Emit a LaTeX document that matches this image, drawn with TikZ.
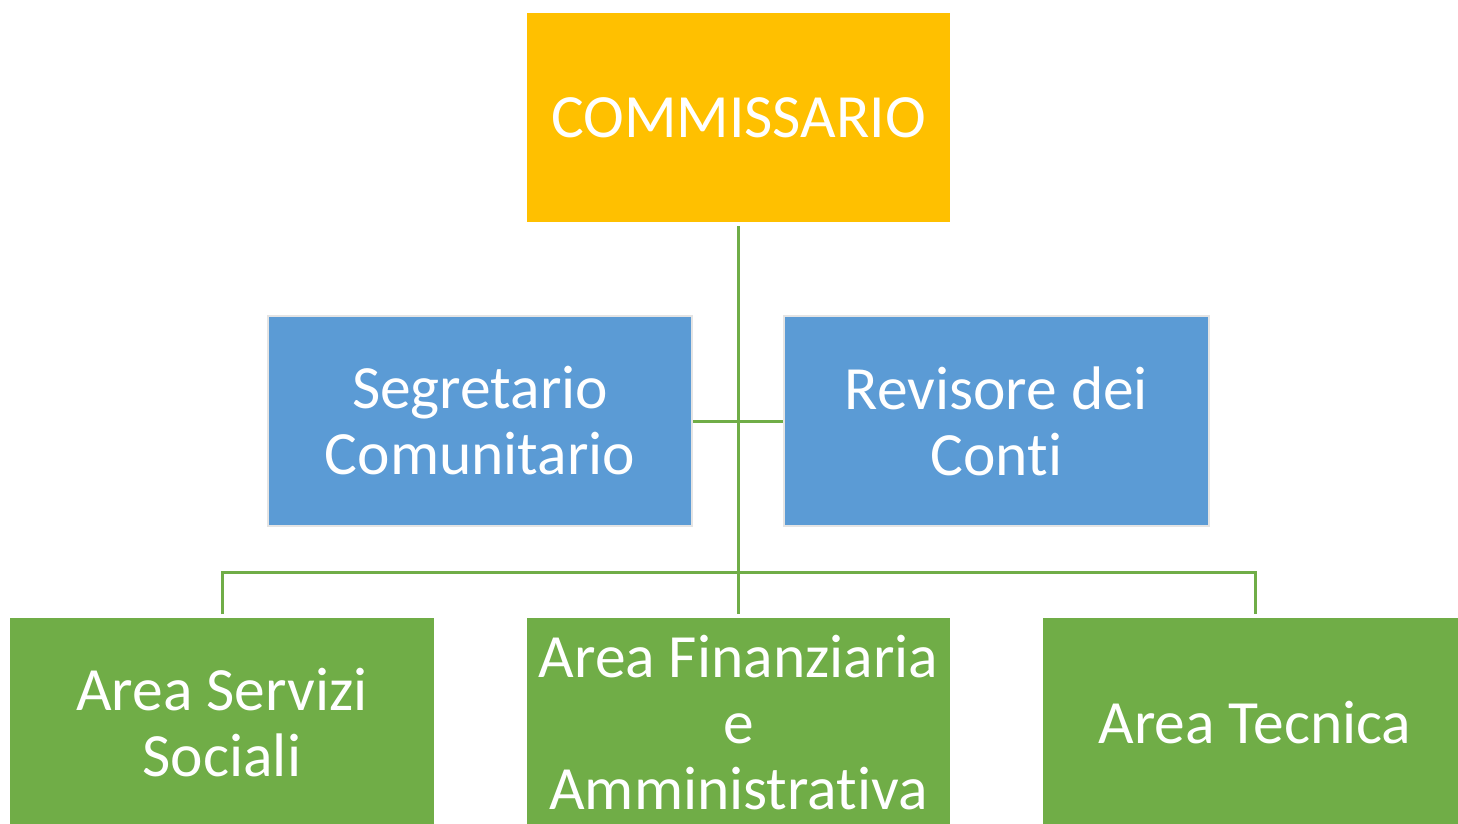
\documentclass[tikz,border=0pt]{standalone}
\usepackage{fontspec}
\setmainfont[Ligatures=NoCommon]{Carlito}
\definecolor{gold}{HTML}{FFC000}
\definecolor{blu}{HTML}{5B9BD5}
\definecolor{grn}{HTML}{70AD47}
\definecolor{edge}{HTML}{E4E4E4}
\begin{document}
\begin{tikzpicture}[x=1pt,y=-1pt,
  box/.style={rectangle,inner sep=0pt,outer sep=0pt,align=center,text=white,
    font=\fontsize{61.5}{66}\selectfont},
  link/.style={draw=grn,line width=3pt}]
\useasboundingbox (0,0) rectangle (1458,823);
\clip (0,0) rectangle (1458,823);
\node[box,fill=gold,minimum width=423pt,minimum height=209pt] (C) at (738.5,117.5) {COMMISSARIO};
\node[box,fill=blu,draw=edge,line width=2.5pt,minimum width=424pt,minimum height=210pt] (S) at (480,421) {Segretario\\Comunitario};
\node[box,fill=blu,draw=edge,line width=2.5pt,minimum width=425pt,minimum height=210pt] (R) at (996.5,421) {Revisore dei\\Conti};
\node[box,fill=grn,minimum width=424pt,minimum height=210pt] (A) at (222,723) {Area Servizi\\Sociali};
\node[box,fill=grn,minimum width=423pt,minimum height=210pt] (F) at (738.5,723) {Area Finanziaria\\e\\Amministrativa};
\node[box,fill=grn,minimum width=424pt,minimum height=210pt] (T) at (1255,723) {Area Tecnica};
\coordinate (bus) at (738.5,572);
\draw[link,shorten <=4pt,shorten >=4pt] (C.south) -- (F.north);
\draw[link,shorten <=1pt,shorten >=1pt] (S.east) -- (R.west);
\draw[link,shorten <=4pt,shorten >=4pt] (A.north) |- (bus) -| (T.north);
\end{tikzpicture}
\end{document}
